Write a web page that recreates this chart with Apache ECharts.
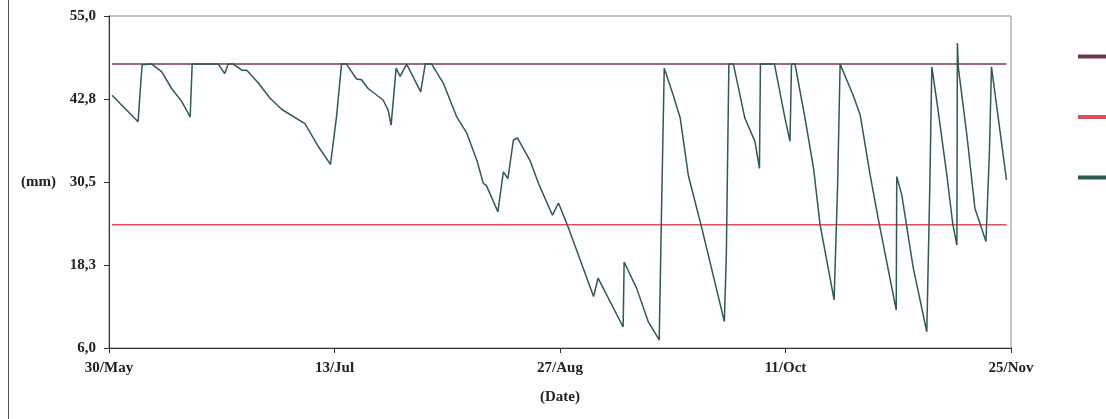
<!DOCTYPE html>
<html>
<head>
<meta charset="utf-8">
<script src="https://cdn.jsdelivr.net/npm/echarts@6/dist/echarts.min.js"></script>
<style>html,body{margin:0;padding:0;background:#fff;}#c{width:1106px;height:419px;}</style>
</head>
<body>
<div id="c"></div>
<script>
// Day offsets from 30/May and soil water (mm)
const days = [0.6,5.8,6.6,8.5,10.5,12.5,14.5,16.2,16.6,21.8,23.1,23.8,24.8,26.5,27.5,29.8,32.1,34.5,39.1,41.8,44.2,45.4,46.4,47.4,49.4,50.4,51.7,54.7,55.7,56.3,57.3,58.1,59.4,62.2,63.1,64.4,66.7,69.4,71.4,73.4,74.7,75.3,77.6,78.7,79.6,80.7,81.5,84.0,85.7,88.5,89.7,91.7,96.7,97.6,102.6,102.8,105.3,107.6,109.8,110.3,110.8,112.6,114.0,115.6,118.3,122.8,123.2,123.7,124.6,126.9,128.9,129.8,130.0,132.8,134.9,135.9,136.2,136.9,138.9,140.6,141.9,144.7,145.4,145.9,148.5,149.9,151.9,153.5,157.1,157.2,158.2,160.5,163.2,163.8,164.2,165.2,167.2,168.4,169.2,169.3,169.5,171.2,172.8,173.8,175.0,175.7,176.1,179.1];
const water = [43.3,39.4,47.8,47.9,46.8,44.3,42.4,40.1,47.9,47.9,46.5,47.9,47.9,47.0,47.0,45.1,42.9,41.2,39.1,35.7,33.1,40.1,47.9,47.9,45.7,45.6,44.3,42.6,41.1,38.9,47.3,46.1,47.9,43.8,47.9,47.9,45.1,40.1,37.7,33.7,30.3,30.0,26.1,32.0,31.0,36.7,37.0,33.7,30.3,25.6,27.4,23.7,13.6,16.3,9.1,18.7,14.8,9.9,7.2,27.8,47.3,43.3,39.9,31.5,23.7,9.9,20.0,47.9,47.9,39.9,36.5,32.5,47.9,47.9,39.9,36.5,47.9,47.9,39.9,32.5,24.2,13.1,30.0,47.9,43.3,40.4,31.5,25.1,11.6,31.3,28.6,17.8,8.4,30.0,47.5,42.4,31.5,24.2,21.2,51.0,47.3,37.4,26.6,24.4,21.7,35.0,47.5,30.8];
const upperLimit = 47.9;
const lowerLimit = 24.2;
const lineDays = [0.6, 179.1];
const xTickLabels = ['30/May','13/Jul','27/Aug','11/Oct','25/Nov'];
const yTickLabels = ['6,0','18,3','30,5','42,8','55,0'];
const seriesNames = ['Field capacity','Refill point','Soil water'];

const chart = echarts.init(document.getElementById('c'));
const font = {fontFamily:'Liberation Serif', fontWeight:'bold', fontSize:15, color:'#222'};
chart.setOption({
  animation:false,
  backgroundColor:'#fff',
  grid:{left:109, right:95, top:16, bottom:71, show:true, borderColor:'#8a8a8a', borderWidth:1},
  legend:{
    orient:'vertical', left:1073, top:45, itemGap:47.5, itemWidth:33, itemHeight:4,
    icon:'rect', textStyle:{fontFamily:'Liberation Serif', fontSize:13, color:'#222'},
    data:seriesNames
  },
  xAxis:{
    type:'value', min:0, max:180, interval:45,
    name:'(Date)', nameLocation:'middle', nameGap:42,
    nameTextStyle:Object.assign({}, font),
    axisLine:{lineStyle:{color:'#333', width:1}},
    axisTick:{show:true, length:5, lineStyle:{color:'#333'}},
    splitLine:{show:false},
    axisLabel:Object.assign({margin:13, formatter:(v)=>xTickLabels[Math.round(v/45)]||''}, font)
  },
  yAxis:{
    type:'value', min:6, max:55, interval:12.25,
    name:'(mm)', nameLocation:'middle', nameRotate:0, nameGap:53,
    nameTextStyle:Object.assign({}, font),
    axisLine:{show:true, lineStyle:{color:'#333', width:1}},
    axisTick:{show:true, length:5, lineStyle:{color:'#333'}},
    splitLine:{show:false},
    axisLabel:Object.assign({margin:13, formatter:(v)=>yTickLabels[Math.round((v-6)/12.25)]||''}, font)
  },
  graphic:[{type:'line', shape:{x1:8.5,y1:0,x2:8.5,y2:419}, style:{stroke:'#555', lineWidth:1}}],
  series:[
    {name:seriesNames[0], type:'line', symbol:'none', data:lineDays.map(d=>[d, upperLimit]), lineStyle:{color:'#7a3848', width:1.5}, itemStyle:{color:'#6a3a46'}},
    {name:seriesNames[1], type:'line', symbol:'none', data:lineDays.map(d=>[d, lowerLimit]), lineStyle:{color:'#e0505c', width:1.5}, itemStyle:{color:'#e0505c'}},
    {name:seriesNames[2], type:'line', symbol:'none', data:days.map((d,i)=>[d, water[i]]), lineStyle:{color:'#2f5a52', width:1.5}, itemStyle:{color:'#2f5a52'}}
  ]
});
</script>
</body>
</html>
